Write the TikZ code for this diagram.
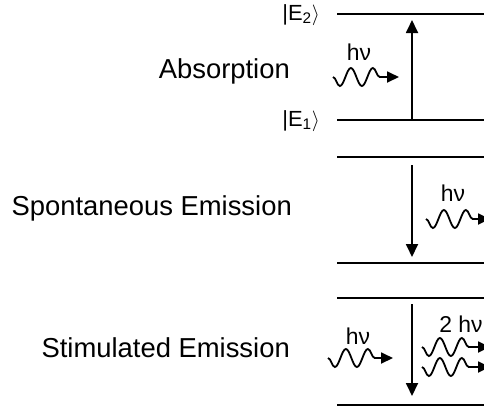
\documentclass[tikz,border=0pt]{standalone}
\usepackage{fontspec}
\setmainfont{Liberation Sans}
\usetikzlibrary{arrows.meta, decorations.pathmorphing}

\begin{document}
\begin{tikzpicture}[x=1bp, y=-1bp,
	lvl/.style={line width=2.6bp},
	trans/.style={line width=1.8bp, -{Triangle[length=13bp, width=12bp]}},
	photon/.style={line width=1.8bp, -{Triangle[length=12bp, width=11bp]}, decorate,
		decoration={snake, amplitude=9bp, segment length=22bp, post length=15bp, mirror}},
	proc/.style={anchor=base east, inner sep=0pt, font=\fontsize{27.5}{32}\selectfont},
	ket/.style={anchor=east, inner sep=0pt, font=\fontsize{22}{26}\selectfont},
	energy/.style={inner sep=0pt, font=\fontsize{23}{27}\selectfont}]
	% Bildbereich
	\useasboundingbox (0,0) rectangle (484,408);
	% Niveaus
	\foreach \y/\n in {14/a2, 120/a1, 157/b2, 263/b1, 298/c2, 405/c1}
	{
		\coordinate (\n-l) at (337,\y);
		\coordinate (\n-r) at (484,\y);
		\draw[lvl] (\n-l) -- (\n-r);
	}
	% Beschriftung
	\node[proc] (abs) at (290,78) {Absorption};
	\node[proc] (spon) at (292,215) {Spontaneous Emission};
	\node[proc] (stim) at (290,357) {Stimulated Emission};
	\node[ket] (e2) at (320,15) {|E\textsubscript{2}$\rangle$};
	\node[ket] (e1) at (320,121) {|E\textsubscript{1}$\rangle$};
	% Uebergaenge
	\coordinate (ua) at (412,120);
	\coordinate (ub) at (412,20);
	\coordinate (sa) at (412,165);
	\coordinate (sb) at (412,257);
	\coordinate (ta) at (412,304);
	\coordinate (tb) at (412,396);
	\draw[trans] (ua) -- (ub);
	\draw[trans] (sa) -- (sb);
	\draw[trans] (ta) -- (tb);
	% Photonen
	\coordinate (p1a) at (333,77);  \coordinate (p1b) at (399,77);
	\coordinate (p2a) at (426,219); \coordinate (p2b) at (490,219);
	\coordinate (p3a) at (328,358); \coordinate (p3b) at (393,358);
	\coordinate (p4a) at (422,347); \coordinate (p4b) at (490,347);
	\coordinate (p5a) at (422,367); \coordinate (p5b) at (490,367);
	\draw[photon] (p1a) -- (p1b);
	\draw[photon] (p2a) -- (p2b);
	\draw[photon] (p3a) -- (p3b);
	\draw[photon] (p4a) -- (p4b);
	\draw[photon] (p5a) -- (p5b);
	\node[energy] (h1) at (359,52) {hν};
	\node[energy] (h2) at (453,193) {hν};
	\node[energy] (h3) at (358,336) {hν};
	\node[energy] (h4) at (461,324) {2 hν};
\end{tikzpicture}
\end{document}
